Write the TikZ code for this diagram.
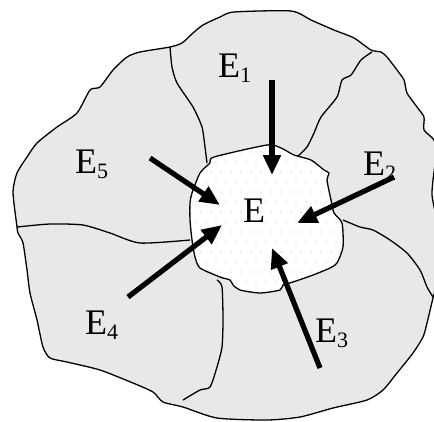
\documentclass[tikz,border=0pt]{standalone}
\usepackage{fontspec}
\setmainfont{Liberation Serif}
\usetikzlibrary{arrows.meta}
\newcommand{\regsub}[1]{\raisebox{-5.5bp}{\fontsize{22bp}{22bp}\selectfont #1}}

\begin{document}
\begin{tikzpicture}[x=1bp, y=-1bp,
    zone/.style={fill=black!9, draw=black, line width=1.3bp, line join=round},
    seam/.style={draw=black, line width=1.3bp, line join=round},
    push/.style={line width=5.2bp, -{Triangle[length=20bp,width=17bp]}},
    lbl/.style={anchor=base west, inner sep=0pt, font=\fontsize{36bp}{36bp}\selectfont}]
    \useasboundingbox (0,0) rectangle (434,421);
    \clip (0,0) rectangle (434,421);

    % outer region
    \draw[zone] plot[smooth cycle, tension=0.4] coordinates {
        (17,227) (13,192) (17,173) (27,157) (37,143) (57,127) (77,113) (90,90)
        (100,87) (113,70) (127,57) (140,52) (170,47) (182,43) (193,33) (203,25)
        (220,17) (234,12) (291,11) (311,20) (334,30) (354,38) (371,50) (381,52)
        (387,57) (397,70) (404,80) (407,93) (417,107) (424,117) (424,130) (434,140)
        (436,155) (433,180) (432,195) (435,212) (439,240) (439,275) (433,298)
        (427,323) (423,337) (413,353) (397,373) (383,390) (367,400) (333,408)
        (300,417) (267,420) (217,418) (183,407) (163,402) (153,392) (133,383)
        (100,370) (67,362) (50,358) (43,347) (37,320) (30,293) (27,270) (23,243)
        (18,233)};

    % borders between the neighbours
    \draw[seam] plot[smooth, tension=0.4] coordinates {
        (170,47) (172,67) (177,83) (193,107) (202,127) (205,147) (207,163)};
    \draw[seam] plot[smooth, tension=0.4] coordinates {
        (372,52) (361,60) (351,75) (342,80) (337,97) (321,117) (314,133) (307,147) (297,157)};
    \draw[seam] plot[smooth, tension=0.4] coordinates {
        (343,220) (360,227) (373,230) (390,240) (407,253) (420,270) (427,287) (433,297)};
    \draw[seam] plot[smooth, tension=0.4] coordinates {
        (217,280) (222,287) (223,320) (222,347) (217,367) (210,387) (200,390) (183,400)};
    \draw[seam] plot[smooth, tension=0.4] coordinates {
        (17,227) (50,224) (83,225) (110,233) (140,243) (190,240)};

    % inner region E
    \draw[seam, fill=white, path picture={
        \foreach \r in {0,...,15}
            \foreach \c in {0,...,16}
                \fill[gray!30] ({186+\c*10+mod(\r,2)*5},{142+\r*10}) circle (0.8bp);
        }] plot[smooth cycle, tension=0.4] coordinates {
        (214,157) (267,145) (281,148) (294,155) (311,160) (324,170) (329,173)
        (327,180) (331,200) (334,213) (342,223) (343,247) (337,263) (330,268)
        (313,275) (293,282) (283,285) (280,290) (260,293) (240,290) (233,285)
        (230,280) (220,277) (200,268) (195,257) (192,240) (190,220) (190,203)
        (192,193) (200,173) (210,163)};

    \coordinate (t1) at (272,80);  \coordinate (h1) at (272,175);
    \coordinate (t2) at (394,177); \coordinate (h2) at (297,223);
    \coordinate (t3) at (320,368); \coordinate (h3) at (272,248);
    \coordinate (t4) at (128,297); \coordinate (h4) at (222,225);
    \coordinate (t5) at (150,158); \coordinate (h5) at (220,205);

    \foreach \k in {1,...,5}
        \draw[push] (t\k) -- (h\k);

    \node[lbl] (lE)  at (243,222) {E};
    \node[lbl] (lE1) at (218,77)  {E\regsub{1}};
    \node[lbl] (lE2) at (363,175) {E\regsub{2}};
    \node[lbl] (lE3) at (315,342) {E\regsub{3}};
    \node[lbl] (lE4) at (85,334)  {E\regsub{4}};
    \node[lbl] (lE5) at (75,173)  {E\regsub{5}};
\end{tikzpicture}
\end{document}
